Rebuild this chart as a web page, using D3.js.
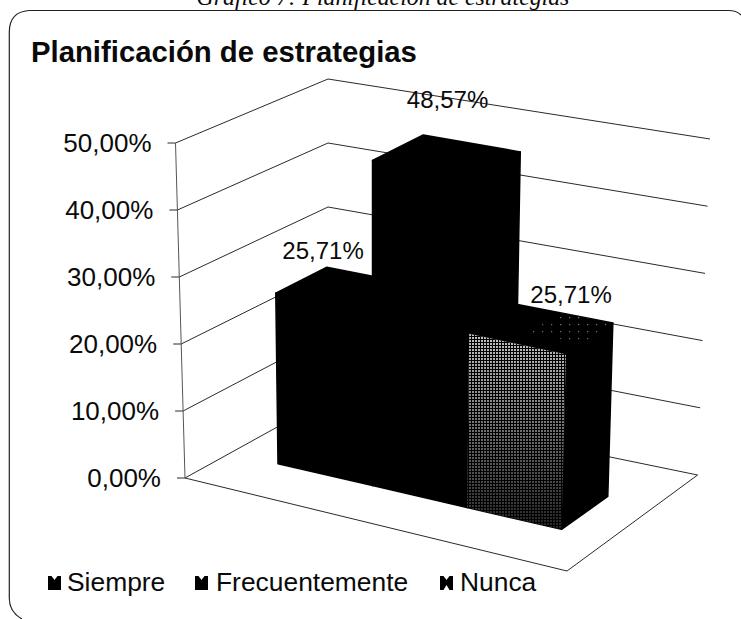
<!DOCTYPE html>
<html lang="es">
<head>
<meta charset="utf-8">
<script src="https://cdn.jsdelivr.net/npm/d3@7"></script>
<style>
html,body{margin:0;padding:0;background:#fff;overflow:hidden}
text{font-family:"Liberation Sans",Arial,sans-serif;fill:#0a0a0a}
</style>
</head>
<body>
<svg id="chart" width="741" height="619"></svg>
<script>
// ---- data ----
const categories = ["Siempre", "Frecuentemente", "Nunca"];
const values = [0.2571, 0.4857, 0.2571];
const valueLabels = ["25,71%", "48,57%", "25,71%"];
const tickValues = [0, 0.1, 0.2, 0.3, 0.4, 0.5];
const tickLabels = ["0,00%", "10,00%", "20,00%", "30,00%", "40,00%", "50,00%"];
const chartTitle = "Planificación de estrategias";
const captionText = "Gráfico 7: Planificación de estrategias";

// ---- projection of the 3-D box: corners of floor and ceiling on the page ----
const floorCorners = {fl:[185,478], fr:[567,571], bl:[328,399], br:[697.6,475]};
const ceilCorners  = {fl:[175.5,143], fr:[577,226], bl:[328,79], br:[710,139]};
const uScale = d3.scaleBand().domain(categories).range([0,1]).paddingInner(0).paddingOuter(0.5);
const vScale = d3.scaleLinear().domain([0,1]).range([0.32,0.67]);
const hScale = d3.scaleLinear().domain([0,0.5]).range([0,1]);
const lerp = (a,b,t)=>[a[0]+(b[0]-a[0])*t, a[1]+(b[1]-a[1])*t];
const bilinear = (c,u,v)=>lerp(lerp(c.fl,c.fr,u), lerp(c.bl,c.br,u), v);
const project = (u,v,value)=>lerp(bilinear(floorCorners,u,v), bilinear(ceilCorners,u,v), hScale(value));
const line = d3.line();

const svg = d3.select("#chart");
const defs = svg.append("defs");

const grad = defs.append("linearGradient").attr("id","faceGrad")
  .attr("x1",0).attr("y1",0).attr("x2",0).attr("y2",1);
grad.append("stop").attr("offset","0%").attr("stop-color","#c4c4c4");
grad.append("stop").attr("offset","50%").attr("stop-color","#6e6e6e");
grad.append("stop").attr("offset","100%").attr("stop-color","#242424");

const dither = defs.append("pattern").attr("id","dither")
  .attr("patternUnits","userSpaceOnUse").attr("width",3).attr("height",3);
dither.append("rect").attr("width",3).attr("height",1).attr("fill","#000");
dither.append("rect").attr("width",1).attr("height",3).attr("fill","#000");

const sparse = defs.append("pattern").attr("id","sparse")
  .attr("patternUnits","userSpaceOnUse").attr("width",9).attr("height",7);
sparse.append("rect").attr("x",2).attr("y",2).attr("width",1.2).attr("height",1.2).attr("fill","#777");

// ---- frame and caption ----
svg.append("text").attr("x",383).attr("y",5).attr("text-anchor","middle")
  .style("font-family",'"Liberation Serif",serif').style("font-style","italic")
  .style("font-size","23.8px").text(captionText);
const framePath = d3.path();
framePath.moveTo(741,15);
framePath.quadraticCurveTo(737,10.5,728,10.5);
framePath.lineTo(29,10.5);
framePath.quadraticCurveTo(9.3,12,9.3,32);
framePath.lineTo(9.3,598);
framePath.quadraticCurveTo(9.3,612,22,619);
svg.append("path").attr("d",framePath.toString()).attr("fill","none").attr("stroke","#222").attr("stroke-width",1.2);
svg.append("text").attr("x",31).attr("y",62).style("font-size","29.3px").style("font-weight","bold").text(chartTitle);

// ---- walls and floor ----
const grid = svg.append("g").attr("fill","none").attr("stroke","#2a2a2a").attr("stroke-width",1);
grid.selectAll("path.wall").data(tickValues).join("path").attr("class","wall")
  .attr("d",t=>line([project(0,0,t),project(0,1,t),project(1,1,t)]));
grid.append("path").attr("d",line([project(0,0,0),project(1,0,0),project(1,1,0)]));
grid.append("path").attr("stroke","#555").attr("d",line([project(0,0,0),project(0,0,0.5)]));
grid.selectAll("path.tick").data(tickValues).join("path").attr("class","tick")
  .attr("d",t=>{const p=project(0,0,t);return line([[p[0]-8,p[1]],p]);});

svg.append("g").style("font-size","26px").attr("text-anchor","end")
  .selectAll("text").data(tickValues).join("text")
  .attr("x",t=>project(0,0,t)[0]-24)
  .attr("y",t=>project(0,0,t)[1]+9)
  .text((t,i)=>tickLabels[i]);

// ---- bars ----
const bars = svg.append("g");
categories.forEach((c,i)=>{
  const u0 = uScale(c), u1 = u0+uScale.bandwidth(), val = values[i];
  const v0 = vScale(0), v1 = vScale(1);
  const front = [project(u0,v0,0),project(u1,v0,0),project(u1,v0,val),project(u0,v0,val)];
  const side  = [project(u1,v0,0),project(u1,v1,0),project(u1,v1,val),project(u1,v0,val)];
  const top   = [project(u0,v0,val),project(u1,v0,val),project(u1,v1,val),project(u0,v1,val)];
  const g = bars.append("g").attr("stroke-linejoin","round");
  g.append("path").attr("d",line(side)+"Z").attr("fill","#000").attr("stroke","#000").attr("stroke-width",1.5);
  g.append("path").attr("d",line(top)+"Z").attr("fill","#000").attr("stroke","#000").attr("stroke-width",1.5);
  g.append("path").attr("d",line(front)+"Z").attr("fill","#000").attr("stroke","#000").attr("stroke-width",1.5);
  if(i===2){
    const uMid = u0+(u1-u0)*0.45;
    const speckled = [project(uMid,v0+(v1-v0)*0.35,val),project(u1,v0+(v1-v0)*0.35,val),project(u1,v1,val),project(uMid,v1,val)];
    g.append("path").attr("d",line(speckled)+"Z").attr("fill","url(#sparse)");
    g.append("path").attr("d",line(front)+"Z").attr("fill","url(#faceGrad)");
    g.append("path").attr("d",line(front)+"Z").attr("fill","url(#dither)");
  }
});

// ---- data labels ----
const labelShift = [[-27,-30.5],[0,-48],[29,-25]];
svg.append("g").style("font-size","24px").attr("text-anchor","middle")
  .selectAll("text").data(categories).join("text")
  .attr("x",(c,i)=>project(uScale(c)+uScale.bandwidth()/2,0.5,values[i])[0]+labelShift[i][0])
  .attr("y",(c,i)=>project(uScale(c)+uScale.bandwidth()/2,0.5,values[i])[1]+labelShift[i][1])
  .text((c,i)=>valueLabels[i]);

// ---- legend ----
const legendX = d3.scaleOrdinal().domain(categories).range([48,195,440]);
const legendTextGap = [19,21,20];
const legend = svg.append("g");
categories.forEach((c,i)=>{
  const x = legendX(c), g = legend.append("g").attr("transform",`translate(${x},576)`);
  g.append("rect").attr("width",13).attr("height",14).attr("fill","#000");
  g.append("path").attr("d",line([[3.5,0],[6.5,4],[9.5,0]])+"Z").attr("fill","#fff");
  if(i===2) g.append("path").attr("d",line([[3.5,14],[6.5,9],[9.5,14]])+"Z").attr("fill","#fff");
  legend.append("text").attr("x",x+legendTextGap[i]).attr("y",591).style("font-size","26.4px").text(c);
});
</script>
</body>
</html>
